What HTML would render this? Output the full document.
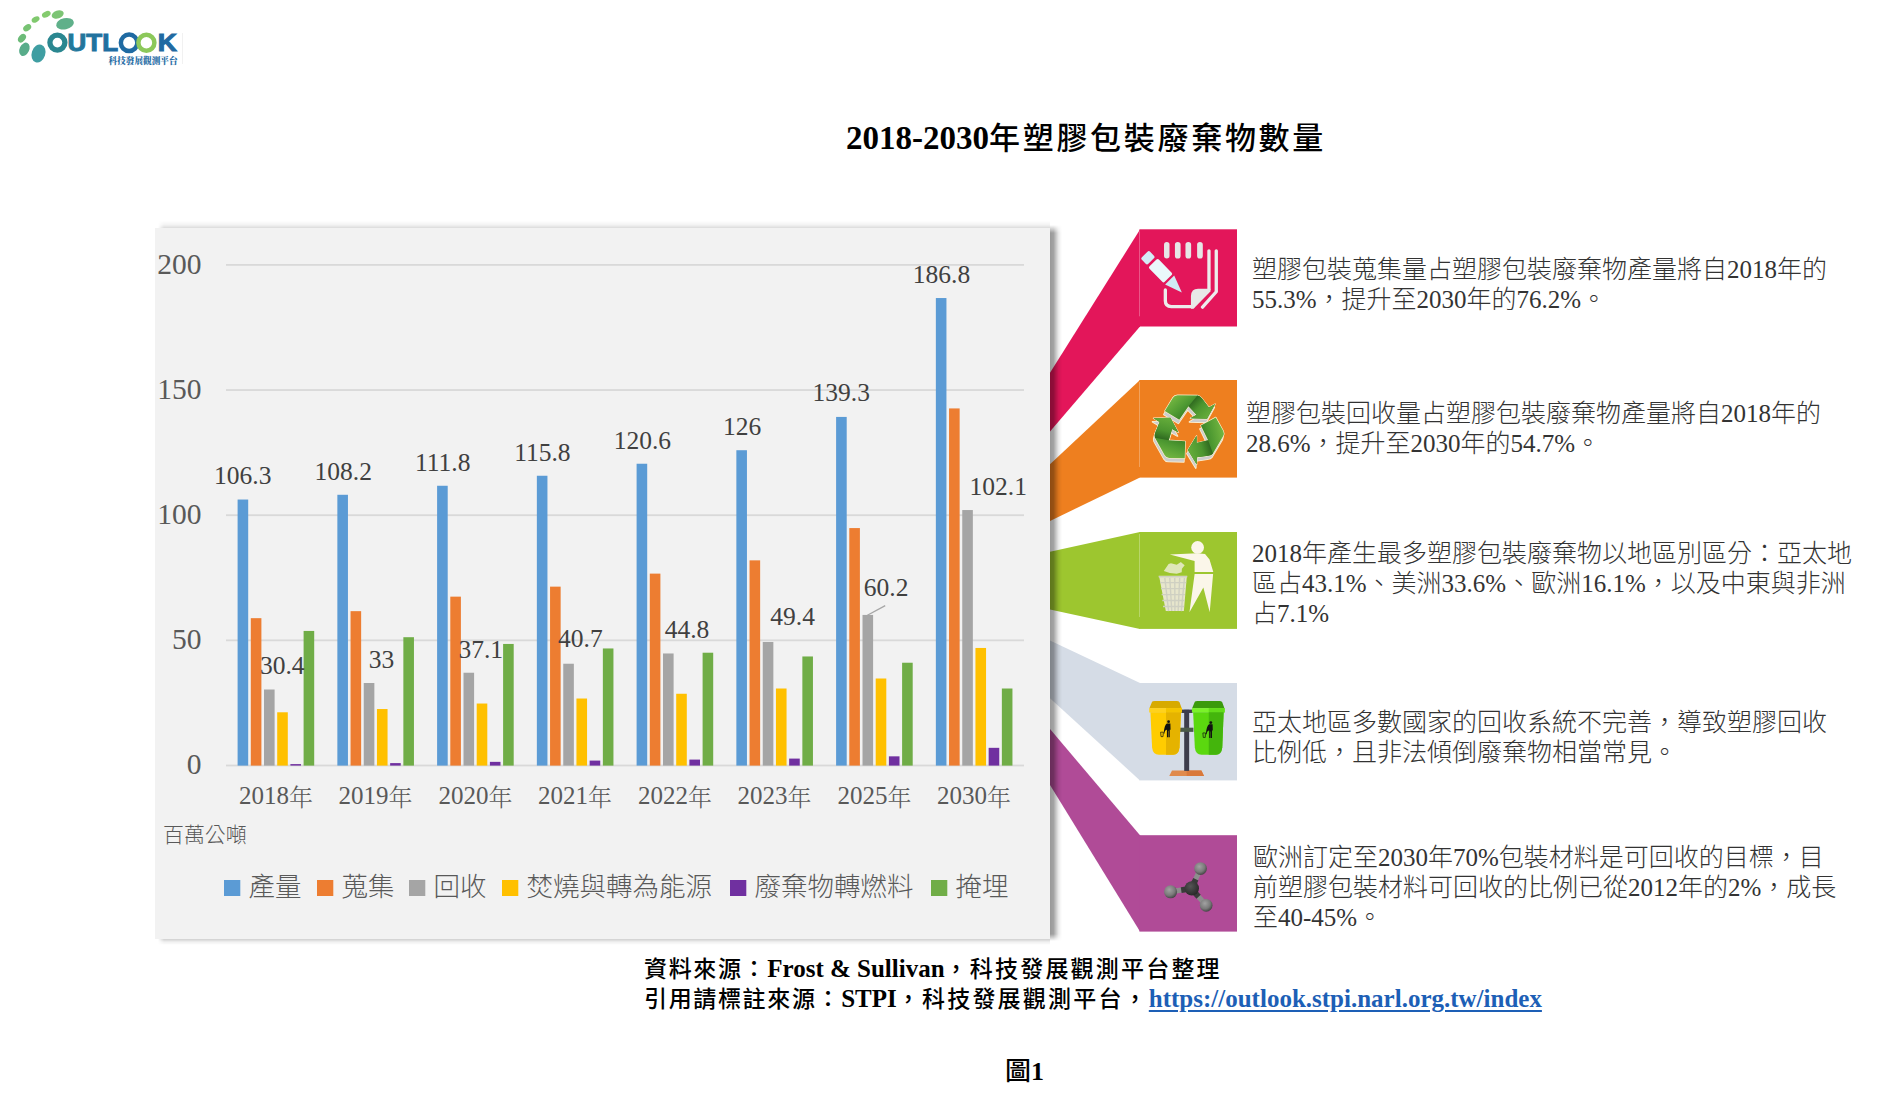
<!DOCTYPE html>
<html lang="zh-Hant"><head><meta charset="utf-8"><title>2018-2030年塑膠包裝廢棄物數量</title>
<style>
html,body{margin:0;padding:0;background:#fff}
body{width:1879px;height:1107px;position:relative;overflow:hidden;font-family:"Liberation Serif","Noto Sans CJK TC",serif}
.ov{position:absolute;left:0;top:0;overflow:visible}
.panel{position:absolute;left:155px;top:228px;width:895px;height:711px;background:#f2f2f2;}
.tsh{position:absolute;left:158px;top:221px;width:892px;height:7.5px;background:linear-gradient(to bottom,rgba(0,0,0,0),rgba(0,0,0,0.05) 50%,rgba(0,0,0,0.17));-webkit-mask-image:linear-gradient(to right,transparent,#000 6px);mask-image:linear-gradient(to right,transparent,#000 6px)}
.bsh{position:absolute;left:158px;top:939px;width:892px;height:6px;background:linear-gradient(to bottom,rgba(0,0,0,0.19),rgba(0,0,0,0.06) 50%,rgba(0,0,0,0));-webkit-mask-image:linear-gradient(to right,transparent,#000 6px);mask-image:linear-gradient(to right,transparent,#000 6px)}
.rsh{position:absolute;left:1050px;top:225px;width:12px;height:716px;background:linear-gradient(to right,rgba(0,0,0,0.40),rgba(0,0,0,0.36) 30%,rgba(0,0,0,0.22) 50%,rgba(0,0,0,0.09) 70%,rgba(0,0,0,0.03) 88%,rgba(0,0,0,0));-webkit-mask-image:linear-gradient(to bottom,transparent,#000 8px,#000 calc(100% - 7px),transparent);mask-image:linear-gradient(to bottom,transparent,#000 8px,#000 calc(100% - 7px),transparent)}
.ax{font-family:"Liberation Serif",serif;font-size:29.5px;fill:#595959}
.cat{font-family:"Liberation Serif","Noto Serif CJK TC",serif;font-size:25px;fill:#595959;font-weight:300}
.dl{font-family:"Liberation Serif",serif;font-size:25.5px;fill:#404040}
.unit{font-family:"Liberation Sans","Noto Sans CJK TC",sans-serif;font-size:20.9px;fill:#595959;font-weight:300}
.lg{font-family:"Liberation Sans","Noto Sans CJK TC",sans-serif;font-size:26.5px;fill:#595959;font-weight:300}
.title{position:absolute;left:846px;top:118px;font-size:33px;font-weight:bold;color:#000;white-space:nowrap;line-height:40px;font-family:"Liberation Serif","Noto Sans CJK TC",serif}
.title .c{font-family:"Liberation Sans","Noto Sans CJK TC",sans-serif;font-weight:500;font-size:31px;letter-spacing:2.7px}
.p{position:absolute;font-family:"Liberation Serif","Noto Sans CJK TC",serif;font-weight:300;font-size:25px;line-height:30px;color:#333;white-space:nowrap}
.foot{position:absolute;left:644px;font-size:25px;font-weight:bold;color:#000;white-space:nowrap;line-height:30px;font-family:"Liberation Serif","Noto Sans CJK TC",serif}
.foot .k{font-family:"Liberation Sans","Noto Sans CJK TC",sans-serif;font-weight:500;font-size:23px;letter-spacing:1.65px}
.foot .k2{letter-spacing:2.2px}
.foot a{color:#1d5fb6;text-decoration:underline;text-decoration-thickness:1.5px;text-underline-offset:3px}
.fig{position:absolute;left:1005px;top:1055px;font-size:26px;font-weight:bold;line-height:32px;font-family:"Liberation Serif","Noto Sans CJK TC",serif}
.fig .k{font-family:"Liberation Sans","Noto Sans CJK TC",sans-serif;font-weight:500}
</style></head><body>
<svg class="ov" width="200" height="80" viewBox="0 0 200 80" style="left:0;top:0">
<defs>
 <linearGradient id="lgd" x1="0" y1="0" x2="0" y2="1"><stop offset="0" stop-color="#8fd07a"/><stop offset="1" stop-color="#3f9fa6"/></linearGradient>
 <linearGradient id="ltx" x1="0" y1="0" x2="1" y2="0"><stop offset="0" stop-color="#237a9a"/><stop offset="1" stop-color="#1f6aa2"/></linearGradient>
</defs>
<g fill="url(#lgd)">
 <ellipse cx="38.5" cy="53.5" rx="6.8" ry="9.2" transform="rotate(18 38.5 53.5)" fill="#3f9ea2"/>
 <ellipse cx="24.4" cy="49.3" rx="4.8" ry="7" transform="rotate(25 24.4 49.3)" fill="#58ac8a"/>
 <ellipse cx="22" cy="38.2" rx="3.3" ry="4.8" transform="rotate(40 22 38.2)" fill="#6cbb78"/>
 <ellipse cx="27.2" cy="27.8" rx="3" ry="4.4" transform="rotate(55 27.2 27.8)" fill="#77c373"/>
 <ellipse cx="35.6" cy="19.5" rx="2.7" ry="4.2" transform="rotate(62 35.6 19.5)" fill="#80c96e"/>
 <ellipse cx="46.3" cy="14.3" rx="2.9" ry="4.6" transform="rotate(65 46.3 14.3)" fill="#84cb6e"/>
 <ellipse cx="57.7" cy="14.5" rx="4" ry="6.2" transform="rotate(72 57.7 14.5)" fill="#7cc474"/>
 <ellipse cx="65" cy="23.8" rx="5.6" ry="9" transform="rotate(78 65 23.8)" fill="#5fb08a"/>
</g>
<circle cx="57.4" cy="42.6" r="7.5" fill="none" stroke="#2b8790" stroke-width="5.3"/>
<text x="67.6" y="51" font-family="Liberation Sans, sans-serif" font-weight="bold" font-size="23" fill="url(#ltx)" stroke="url(#ltx)" stroke-width="1" textLength="50.4" lengthAdjust="spacingAndGlyphs">UTL</text>
<circle cx="129.1" cy="42.8" r="8.25" fill="none" stroke="#1f6aa2" stroke-width="4.5"/>
<circle cx="146.4" cy="42.8" r="8" fill="none" stroke="#8cc85a" stroke-width="4.5"/>
<text x="157.8" y="51" font-family="Liberation Sans, sans-serif" font-weight="bold" font-size="23" fill="#1f6aa2" stroke="#1f6aa2" stroke-width="1" textLength="19.2" lengthAdjust="spacingAndGlyphs">K</text>
<rect x="182" y="33" width="0.8" height="31" fill="#eeeeee"/>
<text x="108.6" y="63.8" font-family="Liberation Serif, Noto Serif CJK TC, serif" font-weight="900" font-size="9.2" fill="#2a6ea6" textLength="69" lengthAdjust="spacingAndGlyphs">科技發展觀測平台</text>
</svg>
<div class="title">2018-2030<span class="c">年塑膠包裝廢棄物數量</span></div>
<div class="tsh"></div><div class="bsh"></div><div class="panel"></div>
<svg class="ov" width="1879" height="1107" viewBox="0 0 1879 1107">
<rect x="226" y="764.60" width="798" height="1.8" fill="#d9d9d9"/><rect x="226" y="639.45" width="798" height="1.8" fill="#d9d9d9"/><rect x="226" y="514.30" width="798" height="1.8" fill="#d9d9d9"/><rect x="226" y="389.15" width="798" height="1.8" fill="#d9d9d9"/><rect x="226" y="264.00" width="798" height="1.8" fill="#d9d9d9"/>
<rect x="237.60" y="499.53" width="10.6" height="266.07" fill="#5b9bd5"/><rect x="250.80" y="618.17" width="10.6" height="147.43" fill="#ed7d31"/><rect x="264.00" y="689.51" width="10.6" height="76.09" fill="#a5a5a5"/><rect x="277.20" y="712.29" width="10.6" height="53.31" fill="#ffc000"/><rect x="290.40" y="764.10" width="10.6" height="1.50" fill="#7030a0"/><rect x="303.60" y="630.94" width="10.6" height="134.66" fill="#70ad47"/><rect x="337.35" y="494.78" width="10.6" height="270.82" fill="#5b9bd5"/><rect x="350.55" y="611.16" width="10.6" height="154.44" fill="#ed7d31"/><rect x="363.75" y="683.00" width="10.6" height="82.60" fill="#a5a5a5"/><rect x="376.95" y="709.03" width="10.6" height="56.57" fill="#ffc000"/><rect x="390.15" y="763.10" width="10.6" height="2.50" fill="#7030a0"/><rect x="403.35" y="637.20" width="10.6" height="128.40" fill="#70ad47"/><rect x="437.10" y="485.76" width="10.6" height="279.84" fill="#5b9bd5"/><rect x="450.30" y="596.65" width="10.6" height="168.95" fill="#ed7d31"/><rect x="463.50" y="672.74" width="10.6" height="92.86" fill="#a5a5a5"/><rect x="476.70" y="703.53" width="10.6" height="62.07" fill="#ffc000"/><rect x="489.90" y="761.85" width="10.6" height="3.75" fill="#7030a0"/><rect x="503.10" y="643.95" width="10.6" height="121.65" fill="#70ad47"/><rect x="536.85" y="475.75" width="10.6" height="289.85" fill="#5b9bd5"/><rect x="550.05" y="586.64" width="10.6" height="178.96" fill="#ed7d31"/><rect x="563.25" y="663.73" width="10.6" height="101.87" fill="#a5a5a5"/><rect x="576.45" y="698.52" width="10.6" height="67.08" fill="#ffc000"/><rect x="589.65" y="760.59" width="10.6" height="5.01" fill="#7030a0"/><rect x="602.85" y="648.46" width="10.6" height="117.14" fill="#70ad47"/><rect x="636.60" y="463.74" width="10.6" height="301.86" fill="#5b9bd5"/><rect x="649.80" y="573.62" width="10.6" height="191.98" fill="#ed7d31"/><rect x="663.00" y="653.47" width="10.6" height="112.13" fill="#a5a5a5"/><rect x="676.20" y="693.76" width="10.6" height="71.84" fill="#ffc000"/><rect x="689.40" y="759.59" width="10.6" height="6.01" fill="#7030a0"/><rect x="702.60" y="652.71" width="10.6" height="112.89" fill="#70ad47"/><rect x="736.35" y="450.22" width="10.6" height="315.38" fill="#5b9bd5"/><rect x="749.55" y="560.35" width="10.6" height="205.25" fill="#ed7d31"/><rect x="762.75" y="641.95" width="10.6" height="123.65" fill="#a5a5a5"/><rect x="775.95" y="688.51" width="10.6" height="77.09" fill="#ffc000"/><rect x="789.15" y="758.59" width="10.6" height="7.01" fill="#7030a0"/><rect x="802.35" y="656.47" width="10.6" height="109.13" fill="#70ad47"/><rect x="836.10" y="416.93" width="10.6" height="348.67" fill="#5b9bd5"/><rect x="849.30" y="528.07" width="10.6" height="237.53" fill="#ed7d31"/><rect x="862.50" y="614.92" width="10.6" height="150.68" fill="#a5a5a5"/><rect x="875.70" y="678.50" width="10.6" height="87.10" fill="#ffc000"/><rect x="888.90" y="756.34" width="10.6" height="9.26" fill="#7030a0"/><rect x="902.10" y="662.73" width="10.6" height="102.87" fill="#70ad47"/><rect x="935.85" y="298.04" width="10.6" height="467.56" fill="#5b9bd5"/><rect x="949.05" y="408.42" width="10.6" height="357.18" fill="#ed7d31"/><rect x="962.25" y="510.04" width="10.6" height="255.56" fill="#a5a5a5"/><rect x="975.45" y="647.96" width="10.6" height="117.64" fill="#ffc000"/><rect x="988.65" y="747.83" width="10.6" height="17.77" fill="#7030a0"/><rect x="1001.85" y="688.51" width="10.6" height="77.09" fill="#70ad47"/>
<path d="M885.2,605.6 L867.4,615.2" stroke="#a6a6a6" stroke-width="1.3" fill="none"/>
<text x="201.5" y="774.2" text-anchor="end" class="ax">0</text><text x="201.5" y="649.1" text-anchor="end" class="ax">50</text><text x="201.5" y="523.9" text-anchor="end" class="ax">100</text><text x="201.5" y="398.8" text-anchor="end" class="ax">150</text><text x="201.5" y="273.6" text-anchor="end" class="ax">200</text>
<text x="275.9" y="804" text-anchor="middle" class="cat">2018<tspan dy="2" font-size="24px">年</tspan></text><text x="375.6" y="804" text-anchor="middle" class="cat">2019<tspan dy="2" font-size="24px">年</tspan></text><text x="475.4" y="804" text-anchor="middle" class="cat">2020<tspan dy="2" font-size="24px">年</tspan></text><text x="575.1" y="804" text-anchor="middle" class="cat">2021<tspan dy="2" font-size="24px">年</tspan></text><text x="674.9" y="804" text-anchor="middle" class="cat">2022<tspan dy="2" font-size="24px">年</tspan></text><text x="774.6" y="804" text-anchor="middle" class="cat">2023<tspan dy="2" font-size="24px">年</tspan></text><text x="874.4" y="804" text-anchor="middle" class="cat">2025<tspan dy="2" font-size="24px">年</tspan></text><text x="974.1" y="804" text-anchor="middle" class="cat">2030<tspan dy="2" font-size="24px">年</tspan></text>
<text x="242.7" y="484.4" text-anchor="middle" class="dl">106.3</text><text x="343.3" y="480.2" text-anchor="middle" class="dl">108.2</text><text x="442.7" y="470.9" text-anchor="middle" class="dl">111.8</text><text x="542.4" y="460.6" text-anchor="middle" class="dl">115.8</text><text x="642.4" y="448.8" text-anchor="middle" class="dl">120.6</text><text x="742.1" y="434.8" text-anchor="middle" class="dl">126</text><text x="841.2" y="401.2" text-anchor="middle" class="dl">139.3</text><text x="941.5" y="283" text-anchor="middle" class="dl">186.8</text><text x="282.3" y="674.3" text-anchor="middle" class="dl">30.4</text><text x="381.4" y="668" text-anchor="middle" class="dl">33</text><text x="480.7" y="657.9" text-anchor="middle" class="dl">37.1</text><text x="580.4" y="647.4" text-anchor="middle" class="dl">40.7</text><text x="687" y="638.1" text-anchor="middle" class="dl">44.8</text><text x="792.6" y="625.2" text-anchor="middle" class="dl">49.4</text><text x="886.1" y="596.3" text-anchor="middle" class="dl">60.2</text><text x="998.2" y="495" text-anchor="middle" class="dl">102.1</text>
<text x="163" y="841.5" class="unit">百萬公噸</text>
<rect x="224" y="880" width="16.3" height="16" fill="#5b9bd5"/><text x="248.5" y="896" class="lg">產量</text><rect x="317" y="880" width="16.3" height="16" fill="#ed7d31"/><text x="341.5" y="896" class="lg">蒐集</text><rect x="409" y="880" width="16.3" height="16" fill="#a5a5a5"/><text x="433.5" y="896" class="lg">回收</text><rect x="502" y="880" width="16.3" height="16" fill="#ffc000"/><text x="526.5" y="896" class="lg">焚燒與轉為能源</text><rect x="730" y="880" width="16.3" height="16" fill="#7030a0"/><text x="754.5" y="896" class="lg">廢棄物轉燃料</text><rect x="931" y="880" width="16.3" height="16" fill="#70ad47"/><text x="955.5" y="896" class="lg">掩埋</text>
</svg>
<svg class="ov" width="1879" height="1107" viewBox="0 0 1879 1107">
<defs><linearGradient id="shd" x1="0" x2="1" y1="0" y2="0"><stop offset="0" stop-color="#000" stop-opacity="0.4"/><stop offset="0.35" stop-color="#000" stop-opacity="0.25"/><stop offset="1" stop-color="#000" stop-opacity="0"/></linearGradient></defs>
<path d="M1050,372.8 L1140,229.5 L1140,326.5 L1050,431.5 Z" fill="#e3165a"/><rect x="1139.5" y="229.3" width="97.5" height="97.2" fill="#e3165a"/><path d="M1050,464.3 L1140,380 L1140,477.6 L1050,520.9 Z" fill="#ee7f1f"/><rect x="1139.5" y="380" width="97.5" height="97.6" fill="#ee7f1f"/><path d="M1050,551.7 L1140,532 L1140,628.9 L1050,609.4 Z" fill="#9dc62f"/><rect x="1139.5" y="532" width="97.5" height="96.9" fill="#9dc62f"/><path d="M1050,640.6 L1140,683 L1140,780.4 L1050,698.3 Z" fill="#d5dce6"/><rect x="1139.5" y="683" width="97.5" height="97.4" fill="#d5dce6"/><path d="M1050,729.1 L1140,835.2 L1140,931.6 L1050,785 Z" fill="#b04b97"/><rect x="1139.5" y="835.2" width="97.5" height="96.4" fill="#b04b97"/>
<rect x="1139" y="231.3" width="1" height="85" fill="#fff" fill-opacity="0.28"/><rect x="1139" y="382" width="1" height="85" fill="#fff" fill-opacity="0.28"/><rect x="1139" y="534" width="1" height="83" fill="#fff" fill-opacity="0.28"/>
<g transform="translate(1135,225) scale(0.094832)">
 <g fill="#e6e6e6">
  <rect x="306" y="178" width="58" height="175" rx="29"/>
  <rect x="421" y="178" width="60" height="175" rx="30"/>
  <rect x="532" y="178" width="60" height="175" rx="30"/>
  <rect x="655" y="178" width="60" height="175" rx="30"/>
 </g>
 <g transform="translate(105,313.5) rotate(45.6)">
  <rect x="-4" y="-61" width="97" height="122" rx="20" fill="#d4ecf6"/>
  <rect x="121" y="-69" width="229" height="138" rx="18" fill="#eaf8fb"/>
  <path d="M372,-67 L556,0 L372,67 Z" fill="#d0e9f4"/>
 </g>
 <g fill="none" stroke="#ececec" stroke-width="35" stroke-linecap="round" stroke-linejoin="round">
  <path d="M320,685 L320,800 Q320,861 383,861 L610,861"/>
  <path d="M780,272 L780,680"/>
  <path d="M857,272 L857,704 L712,866"/>
 </g>
 <path d="M795,671 L795,700 L617,884 L590,884 L590,748 Q592,671 665,671 Z" fill="#e8e8e8"/>
</g>
<g transform="translate(1135,375) scale(0.09937)">
 <defs>
  <linearGradient id="rg1" gradientUnits="userSpaceOnUse" x1="250" y1="120" x2="520" y2="420">
   <stop offset="0" stop-color="#7cbd44"/><stop offset="0.55" stop-color="#4f9a32"/><stop offset="1" stop-color="#2f7421"/>
  </linearGradient>
  <linearGradient id="rg2" gradientUnits="userSpaceOnUse" x1="560" y1="150" x2="800" y2="380">
   <stop offset="0" stop-color="#285f1c"/><stop offset="0.45" stop-color="#4c952f"/><stop offset="1" stop-color="#66ad3b"/>
  </linearGradient>
  <path id="rarw" d="M200,310 L310,130 Q330,98 372,97 L640,100 Q670,102 700,140 L795,262 L880,215 L770,416 L545,410 L629,361 L520,245 L395,430 Z"/>
  <path id="rarw2" d="M520,245 L640,100 Q670,102 700,140 L795,262 L880,215 L770,416 L545,410 L629,361 Z"/>
 </defs>
 <g transform="translate(150.9,130.8) scale(0.7454)">
  <g fill="#fff1cf" stroke="#fff1cf" stroke-width="22" stroke-linejoin="round" transform="translate(-12,48)">
   <use href="#rarw"/><use href="#rarw" transform="rotate(120 519 552)"/><use href="#rarw" transform="rotate(240 519 552)"/>
  </g>
  <g fill="#cdcdcd" transform="translate(-12,48)">
   <use href="#rarw"/><use href="#rarw" transform="rotate(120 519 552)"/><use href="#rarw" transform="rotate(240 519 552)"/>
  </g>
  <g fill="#fff1cf" stroke="#fff1cf" stroke-width="16" stroke-linejoin="round">
   <use href="#rarw"/><use href="#rarw" transform="rotate(120 519 552)"/><use href="#rarw" transform="rotate(240 519 552)"/>
  </g>
  <g fill="url(#rg1)">
   <use href="#rarw"/><use href="#rarw" transform="rotate(120 519 552)"/><use href="#rarw" transform="rotate(240 519 552)"/>
  </g>
  <g fill="url(#rg2)">
   <use href="#rarw2"/><use href="#rarw2" transform="rotate(120 519 552)"/><use href="#rarw2" transform="rotate(240 519 552)"/>
  </g>
 </g>
</g>
<g transform="translate(1135,527) scale(0.09937)">
 <circle cx="630" cy="206" r="64" fill="#fbf6e9"/>
 <path d="M350,277 L625,264 L705,272 L750,328 L788,452 L600,454 L600,342 Z" fill="#fbf6e9"/>
 <path d="M600,474 L786,474 L752,858 L688,610 L548,858 Z" fill="#fbf6e9"/>
 <path d="M290,442 L338,372 L362,366 L420,380 L462,352 L475,365 L500,386 L472,420 L470,455 L420,470 L350,462 Z" fill="#dfe7b9"/>
 <path d="M238,490 L526,490 L520,512 L492,846 L310,846 L246,512 Z" fill="#e7e6cc"/>
 <g stroke="#cfd0c2" stroke-width="14" fill="none">
  <path d="M238,500 L526,500"/>
  <path d="M255,560 L515,560 M262,620 L508,620 M268,680 L502,680 M275,740 L498,740 M282,800 L494,800"/>
  <path d="M300,512 L338,846 M350,512 L370,846 M400,512 L402,846 M450,512 L434,846 M498,512 L466,846"/>
 </g>
</g>
<g transform="translate(1135,678) scale(0.09937)">
 <path d="M372,930 L668,930 L695,985 L345,985 Z" fill="#e08a4c"/>
 <path d="M520,930 L668,930 L695,985 L520,985 Z" fill="#d9793b"/>
 <rect x="495" y="320" width="50" height="615" fill="#3d3c4b"/>
 <rect x="462" y="318" width="118" height="34" fill="#3d3c4b"/>
 <rect x="452" y="500" width="136" height="42" fill="#4b5a4a"/>
 <g>
  <path d="M172,240 Q175,232 200,232 L420,232 Q440,232 448,245 L470,305 L145,305 Z" fill="#d7aa00"/>
  <rect x="143" y="303" width="330" height="44" fill="#ffd21c"/>
  <rect x="312" y="303" width="161" height="44" fill="#f3c400"/>
  <path d="M155,345 L462,345 L448,700 Q440,772 385,772 L240,772 Q180,772 172,700 Z" fill="#ffcc00"/>
  <path d="M312,345 L462,345 L448,700 Q440,772 385,772 L312,772 Z" fill="#e5b300"/>
 </g>
 <g transform="translate(430,0)">
  <path d="M172,240 Q175,232 200,232 L420,232 Q440,232 448,245 L470,305 L145,305 Z" fill="#3b9a0c"/>
  <rect x="143" y="303" width="330" height="44" fill="#7bf22a"/>
  <rect x="312" y="303" width="161" height="44" fill="#62dc1a"/>
  <path d="M155,345 L462,345 L448,700 Q440,772 385,772 L240,772 Q180,772 172,700 Z" fill="#5bd80f"/>
  <path d="M312,345 L462,345 L448,700 Q440,772 385,772 L312,772 Z" fill="#44b50c"/>
 </g>
 <g fill="#111">
  <circle cx="338" cy="440" r="14"/><path d="M322,458 L356,458 L358,520 L350,520 L350,595 L338,595 L338,530 L334,530 L334,595 L322,595 L322,520 Q300,520 295,560 L288,556 Q296,470 322,458 Z"/>
  <path d="M258,545 L285,545 L282,590 L262,590 Z" fill="none" stroke="#111" stroke-width="7"/>
  <g transform="translate(425,8)"><circle cx="338" cy="440" r="14"/><path d="M322,458 L356,458 L358,520 L350,520 L350,595 L338,595 L338,530 L334,530 L334,595 L322,595 L322,520 Q300,520 295,560 L288,556 Q296,470 322,458 Z"/>
  <path d="M258,545 L285,545 L282,590 L262,590 Z" fill="none" stroke="#111" stroke-width="7"/></g>
 </g>
</g>
<g transform="translate(1135,829) scale(0.09937)">
 <defs>
  <radialGradient id="hg" cx="0.4" cy="0.35" r="0.7"><stop offset="0" stop-color="#a2a2a2"/><stop offset="0.6" stop-color="#7a7a7a"/><stop offset="1" stop-color="#3d3d3d"/></radialGradient>
  <radialGradient id="cg" cx="0.4" cy="0.35" r="0.7"><stop offset="0" stop-color="#555"/><stop offset="1" stop-color="#262626"/></radialGradient>
 </defs>
 <g stroke="#8d8d8d" stroke-width="52">
  <path d="M565,600 L660,400"/><path d="M565,600 L360,630"/><path d="M565,600 L715,765"/>
 </g>
 <g stroke="#3a3a3a" stroke-width="58">
  <path d="M565,600 L612,505"/><path d="M565,600 L465,615"/><path d="M565,600 L640,682"/>
 </g>
 <circle cx="572" cy="598" r="72" fill="url(#cg)"/>
 <circle cx="660" cy="398" r="64" fill="url(#hg)"/>
 <circle cx="358" cy="632" r="66" fill="url(#hg)"/>
 <circle cx="716" cy="768" r="64" fill="url(#hg)"/>
</g>

</svg>
<div class="rsh"></div>
<div class="p" style="left:1252px;top:255px">塑膠包裝蒐集量占塑膠包裝廢棄物產量將自2018年的<br>55.3%，提升至2030年的76.2%。</div>
<div class="p" style="left:1246px;top:399px">塑膠包裝回收量占塑膠包裝廢棄物產量將自2018年的<br>28.6%，提升至2030年的54.7%。</div>
<div class="p" style="left:1252px;top:539px">2018年產生最多塑膠包裝廢棄物以地區別區分：亞太地<br>區占43.1%、美洲33.6%、歐洲16.1%，以及中東與非洲<br>占7.1%</div>
<div class="p" style="left:1252px;top:708px">亞太地區多數國家的回收系統不完善，導致塑膠回收<br>比例低，且非法傾倒廢棄物相當常見。</div>
<div class="p" style="left:1253px;top:843px">歐洲訂定至2030年70%包裝材料是可回收的目標，目<br>前塑膠包裝材料可回收的比例已從2012年的2%，成長<br>至40-45%。</div>
<div class="foot" style="top:954px"><span class="k">資料來源：</span>Frost &amp; Sullivan<span class="k k2">，科技發展觀測平台整理</span></div>
<div class="foot" style="top:984px"><span class="k">引用請標註來源：</span>STPI<span class="k k2">，科技發展觀測平台，</span><a>https://outlook.stpi.narl.org.tw/index</a></div>
<div class="fig"><span class="k">圖</span>1</div>
</body></html>
